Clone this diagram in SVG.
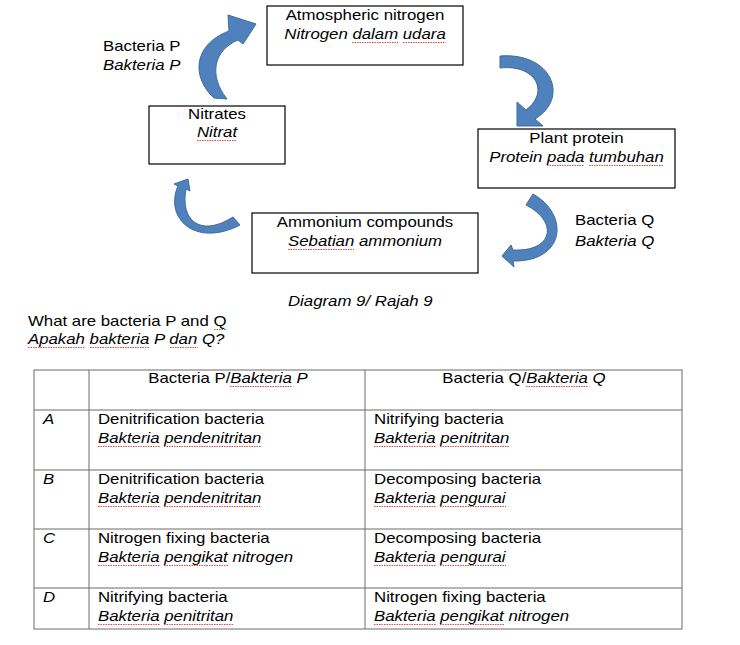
<svg xmlns="http://www.w3.org/2000/svg" width="740" height="645" viewBox="0 0 740 645">
<style>
.t{font-family:"Liberation Sans",Arial,sans-serif;font-size:14px;fill:#000}
.i{font-style:italic}
.m{text-anchor:middle}
.box{fill:#fff;stroke:#000;stroke-width:1.2}
.arr{fill:#4F81BD;stroke:#3F6A9C;stroke-width:1}
.grid{stroke:#6a6a6a;stroke-width:1;fill:none}
.sq{fill:none;stroke:#e04848;stroke-width:1;stroke-dasharray:1.5 1}
.sqg{fill:none;stroke:#3a9a3a;stroke-width:1;stroke-dasharray:1.5 1}
</style>
<rect width="740" height="645" fill="#fff"/>

<g id="connectors">
<path class="arr" d="M 214 98 C 192 78, 192 45, 229 31 L 228 15 L 256 24 L 243 44 L 238 40 C 214 50, 208 75, 227 99 Z"/>
<path class="arr" d="M 500 56 C 552 52, 570 98, 535 119 L 543 126 L 517 126 L 517 102 L 526 110 C 550 92, 536 64, 500 68 Z"/>
<path class="arr" d="M 533 194 C 570 215, 565 262, 513 261 L 514 267 L 502 256 L 511 245 L 513 250 C 553 252, 559 222, 526 205 Z"/>
<path class="arr" d="M 178 186 C 164 218, 195 248, 240 225 L 233 217 C 200 238, 180 220, 186 189 L 190 191 L 188 179 L 174 184 Z"/>
</g>

<g id="node-atmospheric">
<rect class="box" x="267" y="6" width="196" height="59"/>
<g transform="scale(1.2 1)">
<text class="t m" x="304.17" y="20">Atmospheric nitrogen</text>
<text class="t m i" x="304.17" y="39">Nitrogen dalam udara</text>
</g>
<path class="sq" d="M 352 42.5 H 398 M 403 42.5 H 446"/>
</g>

<g id="node-plant">
<rect class="box" x="478" y="129" width="197" height="59"/>
<g transform="scale(1.2 1)">
<text class="t m" x="480.42" y="143">Plant protein</text>
<text class="t m i" x="480.42" y="162">Protein pada tumbuhan</text>
</g>
<path class="sq" d="M 547 165.5 H 584 M 589 165.5 H 664"/>
</g>

<g id="node-nitrates">
<rect class="box" x="149" y="106" width="136" height="58"/>
<g transform="scale(1.2 1)">
<text class="t m" x="180.83" y="119">Nitrates</text>
<text class="t m i" x="180.83" y="137">Nitrat</text>
</g>
<path class="sq" d="M 197 140.5 H 237"/>
</g>

<g id="node-ammonium">
<rect class="box" x="252" y="213" width="226" height="60"/>
<g transform="scale(1.2 1)">
<text class="t m" x="304.17" y="227">Ammonium compounds</text>
<text class="t m i" x="304.17" y="246">Sebatian ammonium</text>
</g>
<path class="sq" d="M 288 249.5 H 354"/>
</g>

<g id="label-p" transform="scale(1.2 1)">
<text class="t" x="85.83" y="51">Bacteria P</text>
<text class="t i" x="85.83" y="70">Bakteria P</text>
</g>

<g id="label-q" transform="scale(1.2 1)">
<text class="t" x="479.17" y="225">Bacteria Q</text>
<text class="t i" x="479.17" y="246">Bakteria Q</text>
</g>

<g id="caption">
<g transform="scale(1.2 1)">
<text class="t i" x="240" y="306">Diagram 9/ Rajah 9</text>
<text class="t" x="23.33" y="326">What are bacteria P and Q</text>
<text class="t i" x="23.33" y="344">Apakah bakteria P dan Q?</text>
</g>
<path class="sqg" d="M 214 329.5 H 227"/>
<path class="sq" d="M 28 347.5 H 85 M 90 347.5 H 149 M 170 347.5 H 198"/>
</g>

<g id="table">
<rect class="grid" x="34" y="370" width="648" height="259"/>
<path class="grid" d="M 89 370 V 629 M 365 370 V 629 M 34 410 H 682 M 34 470 H 682 M 34 529 H 682 M 34 588 H 682"/>
<g transform="scale(1.2 1)">
<text class="t m" x="190" y="383">Bacteria P/<tspan class="i">Bakteria P</tspan></text>
<text class="t m" x="436.67" y="383">Bacteria Q/<tspan class="i">Bakteria Q</tspan></text>

<text class="t i" x="35.83" y="424">A</text>
<text class="t" x="81.67" y="424">Denitrification bacteria</text>
<text class="t i" x="81.67" y="443">Bakteria pendenitritan</text>
<text class="t" x="311.67" y="424">Nitrifying bacteria</text>
<text class="t i" x="311.67" y="443">Bakteria penitritan</text>

<text class="t i" x="35.83" y="484">B</text>
<text class="t" x="81.67" y="484">Denitrification bacteria</text>
<text class="t i" x="81.67" y="503">Bakteria pendenitritan</text>
<text class="t" x="311.67" y="484">Decomposing bacteria</text>
<text class="t i" x="311.67" y="503">Bakteria pengurai</text>

<text class="t i" x="35.83" y="543">C</text>
<text class="t" x="81.67" y="543">Nitrogen fixing bacteria</text>
<text class="t i" x="81.67" y="562">Bakteria pengikat nitrogen</text>
<text class="t" x="311.67" y="543">Decomposing bacteria</text>
<text class="t i" x="311.67" y="562">Bakteria pengurai</text>

<text class="t i" x="35.83" y="602">D</text>
<text class="t" x="81.67" y="602">Nitrifying bacteria</text>
<text class="t i" x="81.67" y="621">Bakteria penitritan</text>
<text class="t" x="311.67" y="602">Nitrogen fixing bacteria</text>
<text class="t i" x="311.67" y="621">Bakteria pengikat nitrogen</text>
</g>
<path class="sq" d="M 230 386.5 H 292 M 526 386.5 H 588
M 98 446.5 H 160 M 164 446.5 H 261 M 374 446.5 H 436 M 440 446.5 H 509
M 98 506.5 H 160 M 164 506.5 H 261 M 374 506.5 H 436 M 440 506.5 H 506
M 98 565.5 H 160 M 164 565.5 H 228 M 374 565.5 H 436 M 440 565.5 H 506
M 98 624.5 H 160 M 164 624.5 H 233 M 374 624.5 H 436 M 440 624.5 H 504"/>
</g>
</svg>
